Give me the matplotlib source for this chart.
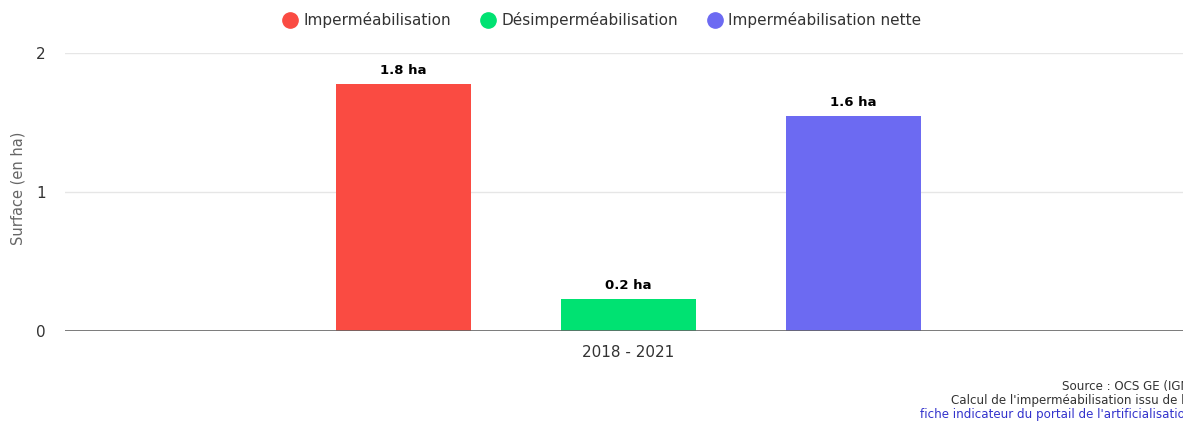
import matplotlib.pyplot as plt
from matplotlib.lines import Line2D

# data
series = ["Imperméabilisation", "Désimperméabilisation", "Imperméabilisation nette"]
values = [1.78, 0.23, 1.55]
labels = ["1.8 ha", "0.2 ha", "1.6 ha"]
category = "2018 - 2021"
colors = ["#fa4b42", "#00e272", "#6c6af2"]
yticks = [0, 1, 2]

W, H = 1183, 423
fig = plt.figure(figsize=(W / 100, H / 100), dpi=100)
ax = fig.add_axes([65 / W, (H - 331) / H, (W - 65) / W, (331 - 53) / H])

offsets = [-1, 0, 1]
for off, v, lab, c in zip(offsets, values, labels, colors):
    ax.bar(off, v, width=0.6, color=c, zorder=3)
    ax.annotate(lab, (off, v), xytext=(0, 5), textcoords="offset points",
                ha="center", va="bottom", fontsize=9.5, fontweight="bold", color="#000000")

ax.set_xlim((65 - 628.5) / 225, (W - 628.5) / 225)
ax.set_ylim(0, 2)
ax.set_yticks(yticks)
ax.set_yticklabels([str(t) for t in yticks], fontsize=11, color="#333333")
ax.set_xticks([0])
ax.set_xticklabels([category], fontsize=11, color="#333333")
ax.tick_params(axis="both", length=0)
ax.tick_params(axis="y", pad=14)
ax.tick_params(axis="x", pad=10)
ax.grid(axis="y", color="#e6e6e6", linewidth=1, zorder=0)
ax.axhline(0, color="#666666", linewidth=1.2, zorder=4)
for s in ax.spines.values():
    s.set_visible(False)
fig.text(18 / W, 1 - 188 / H, "Surface (en ha)", fontsize=10.5, color="#666666",
         rotation=90, ha="center", va="center")

handles = [Line2D([], [], marker="o", linestyle="", markersize=11,
                  markerfacecolor=c, markeredgecolor=c) for c in colors]
fig.legend(handles, series, loc="center", bbox_to_anchor=(601 / W, 1 - 20 / H),
           ncol=3, frameon=False, fontsize=11, handletextpad=0.3, columnspacing=1.8,
           handlelength=1.2, labelcolor="#333333")

# credits, cut off at the right edge as in the reference
fig.text(1062 / W, 1 - 386 / H, "Source : OCS GE (IGN)", fontsize=8.6,
         color="#333333", va="center", ha="left")
fig.text(951 / W, 1 - 400 / H, "Calcul de l'imperméabilisation issu de l'OCS GE", fontsize=8.6,
         color="#333333", va="center", ha="left")
fig.text(920 / W, 1 - 414 / H, "fiche indicateur du portail de l'artificialisation", fontsize=8.6,
         color="#3333cc", va="center", ha="left")

fig.savefig("out.png", dpi=100)
